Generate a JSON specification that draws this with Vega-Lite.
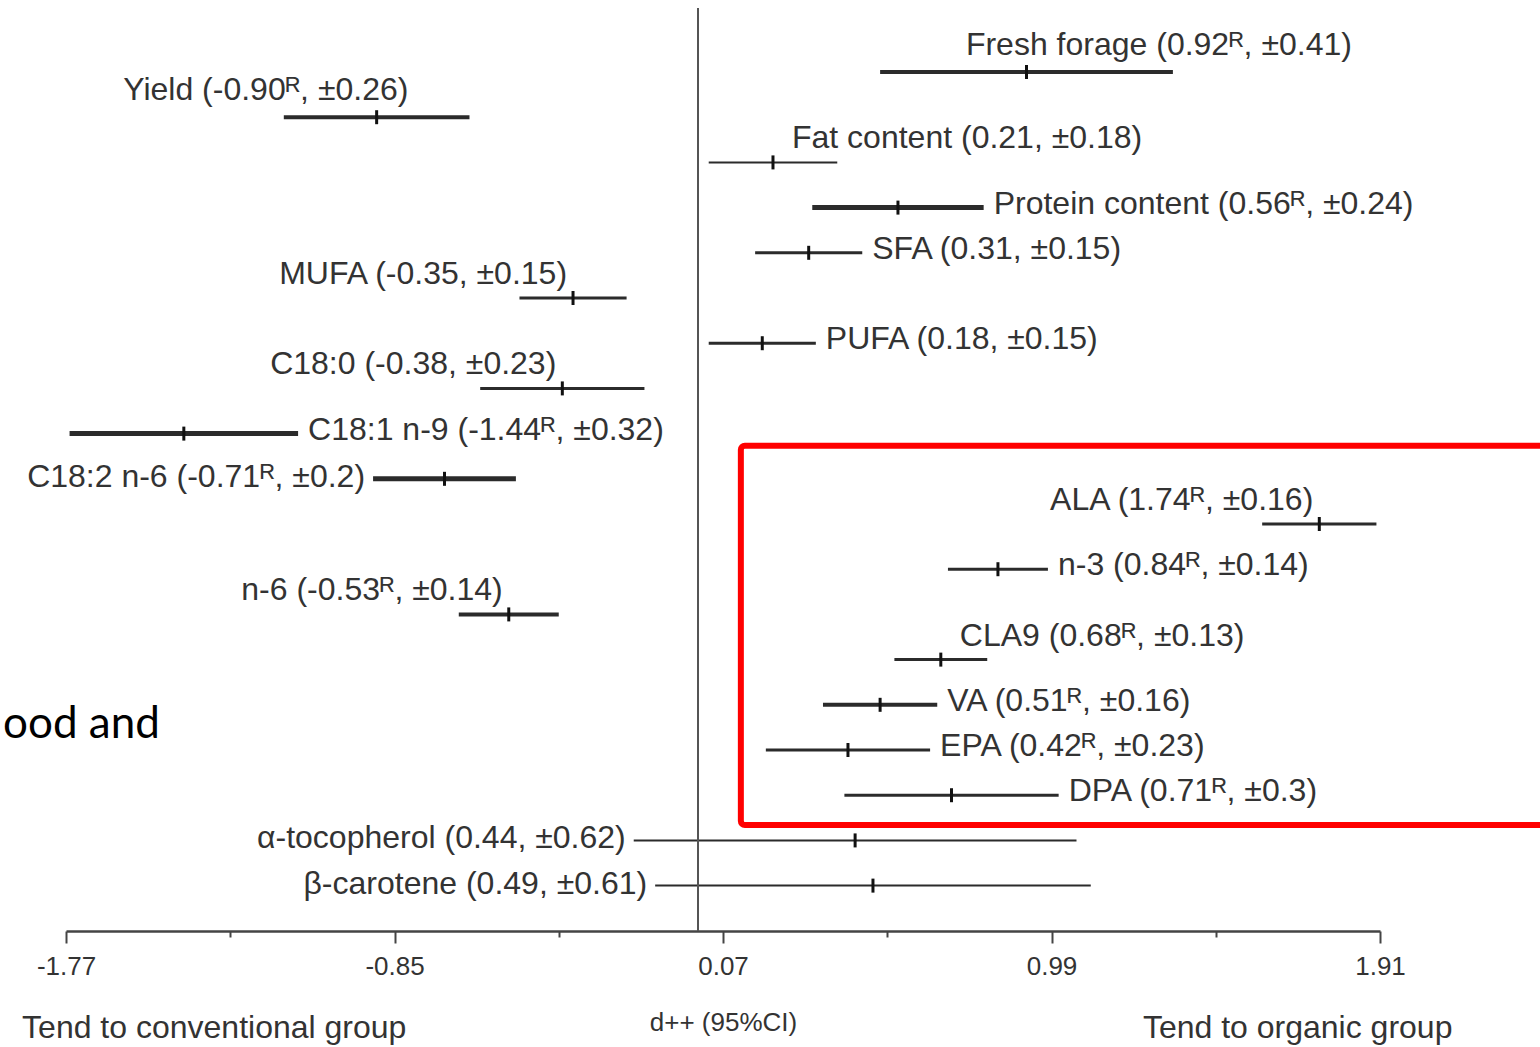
{
  "$schema": "https://vega.github.io/schema/vega-lite/v6.json",
  "width": 1314,
  "height": 923,
  "autosize": {"type": "none"},
  "padding": {"left": 66, "top": 8, "right": 160, "bottom": 116},
  "background": "#ffffff",
  "config": {"view": {"stroke": null}, "font": "Liberation Sans"},
  "datasets": {
    "effects": [
      {"row": 0, "item": "Fresh forage", "mean": 0.92, "ci": 0.41, "lo": 0.51, "hi": 1.33, "weight": 3, "place": "above-hi", "label": "Fresh forage (0.92ᴿ, ±0.41)"},
      {"row": 1, "item": "Yield", "mean": -0.90, "ci": 0.26, "lo": -1.16, "hi": -0.64, "weight": 3, "place": "above-lo", "label": "Yield (-0.90ᴿ, ±0.26)"},
      {"row": 2, "item": "Fat content", "mean": 0.21, "ci": 0.18, "lo": 0.03, "hi": 0.39, "weight": 1, "place": "above-start", "label": "Fat content (0.21, ±0.18)"},
      {"row": 3, "item": "Protein content", "mean": 0.56, "ci": 0.24, "lo": 0.32, "hi": 0.80, "weight": 4, "place": "right", "label": "Protein content (0.56ᴿ, ±0.24)"},
      {"row": 4, "item": "SFA", "mean": 0.31, "ci": 0.15, "lo": 0.16, "hi": 0.46, "weight": 2, "place": "right", "label": "SFA (0.31, ±0.15)"},
      {"row": 5, "item": "MUFA", "mean": -0.35, "ci": 0.15, "lo": -0.50, "hi": -0.20, "weight": 2, "place": "above-end", "label": "MUFA (-0.35, ±0.15)"},
      {"row": 6, "item": "PUFA", "mean": 0.18, "ci": 0.15, "lo": 0.03, "hi": 0.33, "weight": 2, "place": "right", "label": "PUFA (0.18, ±0.15)"},
      {"row": 7, "item": "C18:0", "mean": -0.38, "ci": 0.23, "lo": -0.61, "hi": -0.15, "weight": 2, "place": "above-end", "label": "C18:0 (-0.38, ±0.23)"},
      {"row": 8, "item": "C18:1 n-9", "mean": -1.44, "ci": 0.32, "lo": -1.76, "hi": -1.12, "weight": 4, "place": "right", "label": "C18:1 n-9 (-1.44ᴿ, ±0.32)"},
      {"row": 9, "item": "C18:2 n-6", "mean": -0.71, "ci": 0.20, "lo": -0.91, "hi": -0.51, "weight": 4, "place": "left", "label": "C18:2 n-6 (-0.71ᴿ, ±0.2)"},
      {"row": 10, "item": "ALA", "mean": 1.74, "ci": 0.16, "lo": 1.58, "hi": 1.90, "weight": 2, "place": "above-end", "label": "ALA (1.74ᴿ, ±0.16)"},
      {"row": 11, "item": "n-3", "mean": 0.84, "ci": 0.14, "lo": 0.70, "hi": 0.98, "weight": 2, "place": "right", "label": "n-3 (0.84ᴿ, ±0.14)"},
      {"row": 12, "item": "n-6", "mean": -0.53, "ci": 0.14, "lo": -0.67, "hi": -0.39, "weight": 3, "place": "above-end", "label": "n-6 (-0.53ᴿ, ±0.14)"},
      {"row": 13, "item": "CLA9", "mean": 0.68, "ci": 0.13, "lo": 0.55, "hi": 0.81, "weight": 2, "place": "above-start", "label": "CLA9 (0.68ᴿ, ±0.13)"},
      {"row": 14, "item": "VA", "mean": 0.51, "ci": 0.16, "lo": 0.35, "hi": 0.67, "weight": 3, "place": "right", "label": "VA (0.51ᴿ, ±0.16)"},
      {"row": 15, "item": "EPA", "mean": 0.42, "ci": 0.23, "lo": 0.19, "hi": 0.65, "weight": 2, "place": "right", "label": "EPA (0.42ᴿ, ±0.23)"},
      {"row": 16, "item": "DPA", "mean": 0.71, "ci": 0.30, "lo": 0.41, "hi": 1.01, "weight": 2, "place": "right", "label": "DPA (0.71ᴿ, ±0.3)"},
      {"row": 17, "item": "α-tocopherol", "mean": 0.44, "ci": 0.62, "lo": -0.18, "hi": 1.06, "weight": 1, "place": "left", "label": "α-tocopherol (0.44, ±0.62)"},
      {"row": 18, "item": "β-carotene", "mean": 0.49, "ci": 0.61, "lo": -0.12, "hi": 1.10, "weight": 1, "place": "left", "label": "β-carotene (0.49, ±0.61)"}
    ],
    "highlight": [{"x0": 0.12, "x1": 2.42, "r0": 8.27, "r1": 16.66}],
    "zero": [{"x": 0}],
    "sides": [
      {"text": "Tend to conventional group", "x": -1.893, "row": 21.15},
      {"text": "Tend to organic group", "x": 1.246, "row": 21.15}
    ],
    "slide": [{"text": "ood and", "x": -1.507, "row": 14.73}]
  },
  "layer": [
    {
      "data": {"name": "effects"},
      "mark": {"type": "rule", "color": "#2b2b2b", "strokeCap": "butt"},
      "encoding": {
        "x": {
          "field": "lo", "type": "quantitative",
          "scale": {"domain": [-1.77, 1.91], "nice": false, "zero": false},
          "axis": {
            "values": [-1.77, -1.31, -0.85, -0.39, 0.07, 0.53, 0.99, 1.45, 1.91],
            "labelExpr": "indexof([-177,-85,7,99,191], round(datum.value*100)) >= 0 ? toString(datum.value) : ''",
            "tickSize": {"condition": {"test": "indexof([-177,-85,7,99,191], round(datum.value*100)) >= 0", "value": 12}, "value": 6},
            "title": "d++ (95%CI)",
            "grid": false,
            "domainColor": "#444444",
            "domainWidth": 2.5,
            "tickColor": "#444444",
            "tickWidth": 2,
            "labelFontSize": 26,
            "labelColor": "#333333",
            "labelPadding": 10,
            "labelFlush": false,
            "titleFontSize": 26,
            "titleFontWeight": "normal",
            "titleColor": "#333333",
            "titlePadding": 30
          }
        },
        "x2": {"field": "hi"},
        "y": {"field": "row", "type": "quantitative", "scale": {"domain": [-1.416, 19.004], "reverse": true, "nice": false, "zero": false}, "axis": null},
        "strokeWidth": {"field": "weight", "type": "quantitative", "scale": {"domain": [1, 4], "range": [2, 5]}, "legend": null}
      }
    },
    {
      "data": {"name": "highlight"},
      "mark": {"type": "rect", "fill": null, "stroke": "#ff0000", "strokeWidth": 6, "cornerRadius": 4},
      "encoding": {
        "x": {"field": "x0", "type": "quantitative"},
        "x2": {"field": "x1"},
        "y": {"field": "r0", "type": "quantitative", "axis": null},
        "y2": {"field": "r1"}
      }
    },
    {
      "data": {"name": "zero"},
      "mark": {"type": "rule", "color": "#555555", "strokeWidth": 2},
      "encoding": {"x": {"field": "x", "type": "quantitative"}}
    },
    {
      "data": {"name": "effects"},
      "mark": {"type": "tick", "orient": "vertical", "size": 14, "thickness": 3, "color": "#111111", "opacity": 1},
      "encoding": {
        "x": {"field": "mean", "type": "quantitative"},
        "y": {"field": "row", "type": "quantitative", "axis": null}
      }
    },
    {
      "data": {"name": "effects"},
      "transform": [{"filter": "datum.place == 'right'"}],
      "mark": {"type": "text", "align": "left", "baseline": "middle", "dx": 10, "dy": -4, "fontSize": 32, "color": "#333333"},
      "encoding": {
        "x": {"field": "hi", "type": "quantitative"},
        "y": {"field": "row", "type": "quantitative", "axis": null},
        "text": {"field": "label"}
      }
    },
    {
      "data": {"name": "effects"},
      "transform": [{"filter": "datum.place == 'left'"}],
      "mark": {"type": "text", "align": "right", "baseline": "middle", "dx": -8, "dy": -2, "fontSize": 32, "color": "#333333"},
      "encoding": {
        "x": {"field": "lo", "type": "quantitative"},
        "y": {"field": "row", "type": "quantitative", "axis": null},
        "text": {"field": "label"}
      }
    },
    {
      "data": {"name": "effects"},
      "transform": [{"filter": "datum.place == 'above-end'"}],
      "mark": {"type": "text", "align": "right", "baseline": "middle", "dx": -6, "dy": -24, "fontSize": 32, "color": "#333333"},
      "encoding": {
        "x": {"field": "mean", "type": "quantitative"},
        "y": {"field": "row", "type": "quantitative", "axis": null},
        "text": {"field": "label"}
      }
    },
    {
      "data": {"name": "effects"},
      "transform": [{"filter": "datum.place == 'above-start'"}],
      "mark": {"type": "text", "align": "left", "baseline": "middle", "dx": 19, "dy": -24, "fontSize": 32, "color": "#333333"},
      "encoding": {
        "x": {"field": "mean", "type": "quantitative"},
        "y": {"field": "row", "type": "quantitative", "axis": null},
        "text": {"field": "label"}
      }
    },
    {
      "data": {"name": "effects"},
      "transform": [{"filter": "datum.place == 'above-lo'"}],
      "mark": {"type": "text", "align": "center", "baseline": "middle", "dx": -18, "dy": -27, "fontSize": 32, "color": "#333333"},
      "encoding": {
        "x": {"field": "lo", "type": "quantitative"},
        "y": {"field": "row", "type": "quantitative", "axis": null},
        "text": {"field": "label"}
      }
    },
    {
      "data": {"name": "effects"},
      "transform": [{"filter": "datum.place == 'above-hi'"}],
      "mark": {"type": "text", "align": "center", "baseline": "middle", "dx": -14, "dy": -27, "fontSize": 32, "color": "#333333"},
      "encoding": {
        "x": {"field": "hi", "type": "quantitative"},
        "y": {"field": "row", "type": "quantitative", "axis": null},
        "text": {"field": "label"}
      }
    },
    {
      "data": {"name": "sides"},
      "mark": {"type": "text", "align": "left", "baseline": "middle", "fontSize": 32, "color": "#333333"},
      "encoding": {
        "x": {"field": "x", "type": "quantitative"},
        "y": {"field": "row", "type": "quantitative", "axis": null},
        "text": {"field": "text"}
      }
    },
    {
      "data": {"name": "slide"},
      "mark": {"type": "text", "align": "right", "baseline": "alphabetic", "font": "Lato", "fontSize": 44, "color": "#000000"},
      "encoding": {
        "x": {"field": "x", "type": "quantitative"},
        "y": {"field": "row", "type": "quantitative", "axis": null},
        "text": {"field": "text"}
      }
    }
  ]
}
